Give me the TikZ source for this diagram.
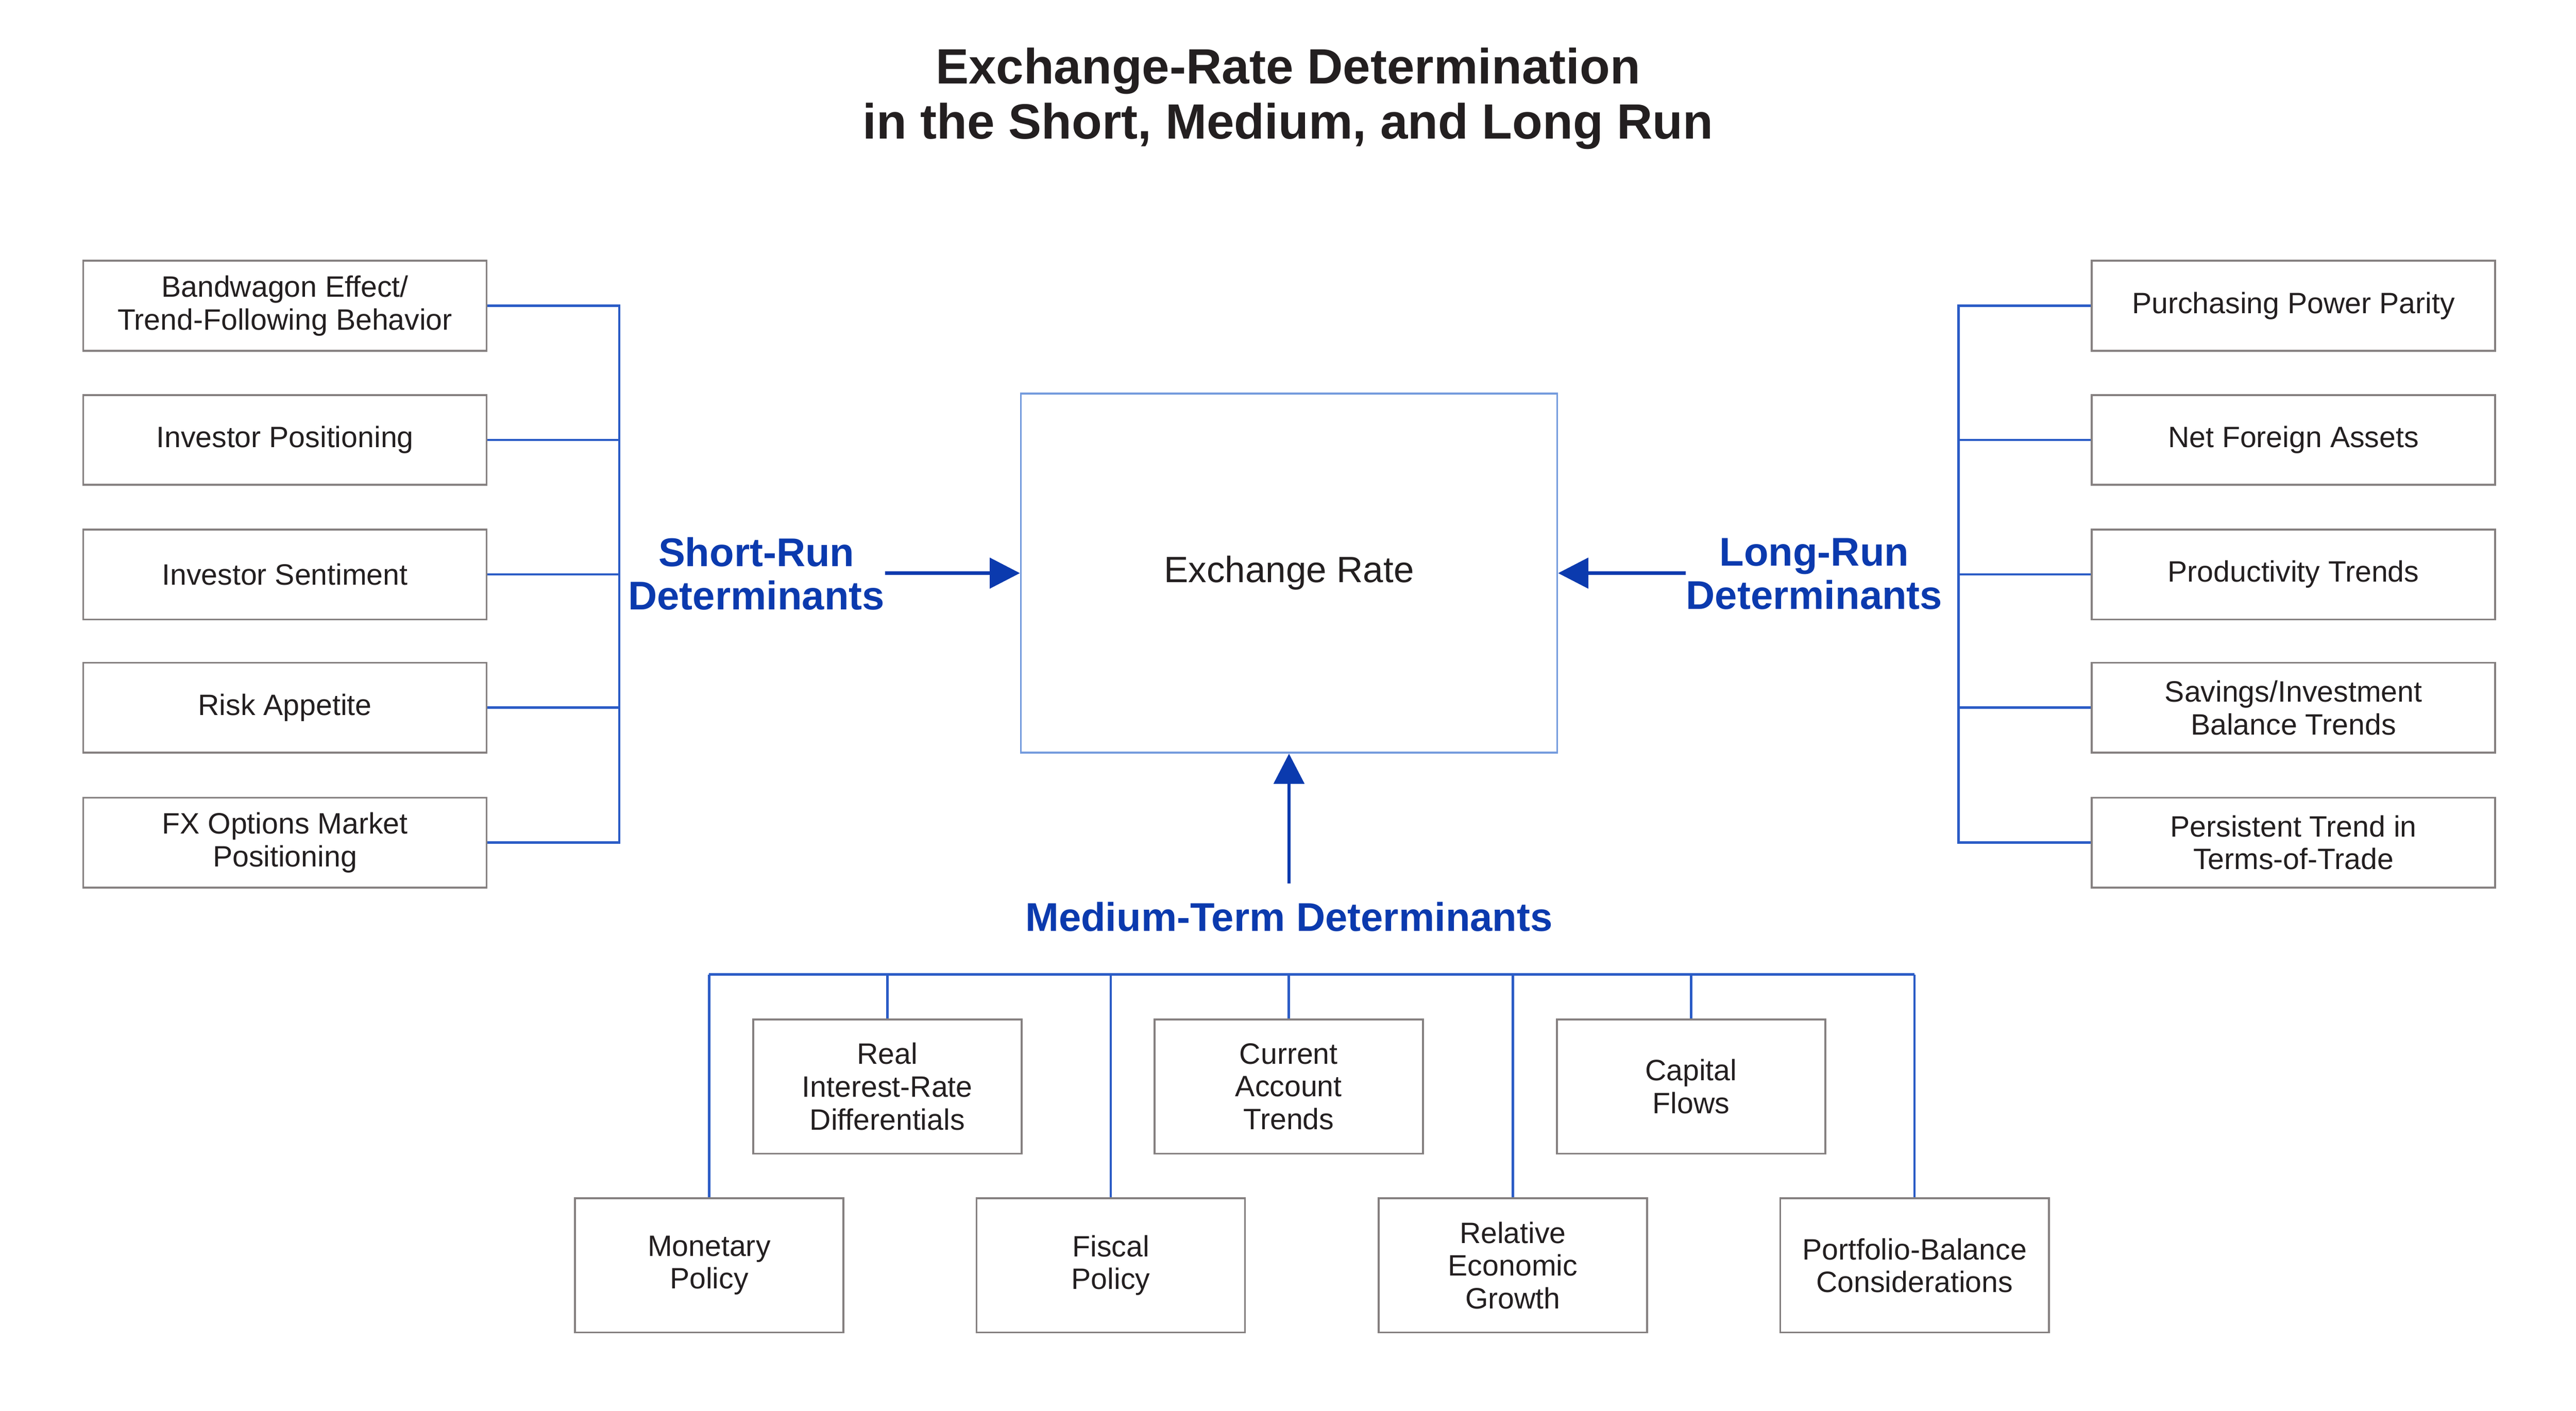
\documentclass[tikz,border=0pt]{standalone}
\usepackage{fontspec}
\setmainfont{Liberation Sans}
\usetikzlibrary{arrows.meta}

\definecolor{busblue}{HTML}{2B5CC6}
\definecolor{labelblue}{HTML}{0B3AAE}
\definecolor{framegrey}{HTML}{858080}
\definecolor{erframe}{HTML}{749BDD}
\definecolor{ink}{HTML}{231F20}

\begin{document}
\begin{tikzpicture}[
	box/.style={draw=framegrey,line width=0.8pt,text=ink,align=center,font=\fontsize{12.5}{13.9}\selectfont,inner sep=2pt},
	sidebox/.style={box,minimum width=6.01cm,minimum height=1.34cm},
	midbox/.style={box,minimum width=4cm,minimum height=2cm},
	bus/.style={draw=busblue,line width=1pt},
	feed/.style={draw=labelblue,line width=1.5pt,-{Triangle[length=0.45cm,width=0.45cm]}},
	heading/.style={text=labelblue,align=center,font=\bfseries\fontsize{17}{18.4}\selectfont,inner sep=0pt}
	]

	\useasboundingbox (0,0) rectangle (38.38,-21.02);

	% title
	\node[align=center,text=ink,font=\bfseries\fontsize{21}{23.4}\selectfont] (title) at (19.19,-1.47) {Exchange-Rate Determination\\in the Short, Medium, and Long Run};

	% centre
	\node[draw=erframe,line width=0.8pt,minimum width=7.99cm,minimum height=5.35cm,text=ink,font=\fontsize{15.5}{18}\selectfont] (er) at (19.205,-8.54) {Exchange Rate};

	\node[heading] (srlab) at (11.27,-8.55) {Short-Run\\Determinants};
	\node[heading] (lrlab) at (27.03,-8.55) {Long-Run\\Determinants};
	\node[heading] (mtlab) at (19.205,-13.66) {Medium-Term Determinants};

	\draw[feed] (srlab.east |- er.west) -- (er.west);
	\draw[feed] (lrlab.west |- er.east) -- (er.east);
	\draw[feed,shorten <=0.27cm] (mtlab.north) -- (er.south);

	% short run
	\node[sidebox] (sr1) at (4.245,-4.555) {Bandwagon Effect/\\Trend-Following Behavior};
	\node[sidebox] (sr2) at (4.245,-6.555) {Investor Positioning};
	\node[sidebox] (sr3) at (4.245,-8.56) {Investor Sentiment};
	\node[sidebox] (sr4) at (4.245,-10.545) {Risk Appetite};
	\node[sidebox] (sr5) at (4.245,-12.555) {FX Options Market\\Positioning};

	\coordinate (sbus) at (9.225,0);
	\draw[bus] (sr1.east) -- (sr1.east -| sbus) -- (sr5.east -| sbus) -- (sr5.east);
	\foreach \i in {2,3,4} \draw[bus] (sr\i.east) -- (sr\i.east -| sbus);

	% long run
	\node[sidebox] (lr1) at (34.17,-4.555) {Purchasing Power Parity};
	\node[sidebox] (lr2) at (34.17,-6.555) {Net Foreign Assets};
	\node[sidebox] (lr3) at (34.17,-8.56) {Productivity Trends};
	\node[sidebox] (lr4) at (34.17,-10.545) {Savings/Investment\\Balance Trends};
	\node[sidebox] (lr5) at (34.17,-12.555) {Persistent Trend in\\Terms-of-Trade};

	\coordinate (lbus) at (29.18,0);
	\draw[bus] (lr1.west) -- (lr1.west -| lbus) -- (lr5.west -| lbus) -- (lr5.west);
	\foreach \i in {2,3,4} \draw[bus] (lr\i.west) -- (lr\i.west -| lbus);

	% medium term
	\node[midbox] (rid) at (13.22,-16.19) {Real\\Interest-Rate\\Differentials};
	\node[midbox] (cat) at (19.2,-16.19) {Current\\Account\\Trends};
	\node[midbox] (cf) at (25.195,-16.19) {Capital\\Flows};
	\node[midbox] (mp) at (10.565,-18.855) {Monetary\\Policy};
	\node[midbox] (fp) at (16.55,-18.855) {Fiscal\\Policy};
	\node[midbox] (reg) at (22.54,-18.855) {Relative\\Economic\\Growth};
	\node[midbox] (pbc) at (28.525,-18.855) {Portfolio-Balance\\Considerations};

	\coordinate (mbus) at (0,-14.52);
	\draw[bus] (mp.north |- mbus) -- (pbc.north |- mbus);
	\foreach \n in {mp,rid,fp,cat,reg,cf,pbc} \draw[bus] (\n.north |- mbus) -- (\n.north);

\end{tikzpicture}
\end{document}
